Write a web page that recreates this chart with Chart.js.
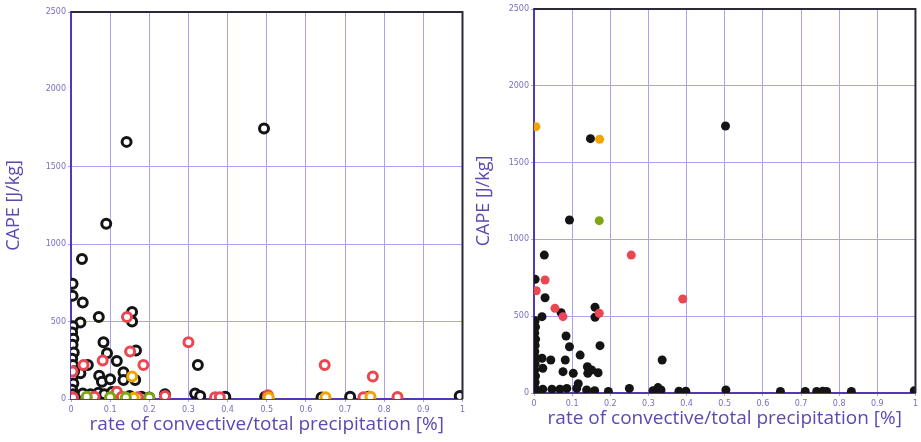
<!DOCTYPE html>
<html>
<head>
<meta charset="utf-8">
<script src="https://cdn.jsdelivr.net/npm/chart.js@4.4.1/dist/chart.umd.min.js"></script>
<style>
  html, body { margin: 0; padding: 0; background: #fff; }
  .panel { position: absolute; top: 0; height: 442px; }
  #leftBox { left: 0; width: 470px; }
  #rightBox { left: 470px; width: 451px; }
</style>
</head>
<body>
<div id="leftBox" class="panel"><canvas id="leftChart"></canvas></div>
<div id="rightBox" class="panel"><canvas id="rightChart"></canvas></div>
<script>
// points are [rate, CAPE]
const xTicks = [0, 0.1, 0.2, 0.3, 0.4, 0.5, 0.6, 0.7, 0.8, 0.9, 1];
const yTicks = [0, 500, 1000, 1500, 2000, 2500];

const leftBlack = [
  [0.142, 1661], [0.493, 1748], [0.090, 1132], [0.028, 905], [0.004, 745], [0.004, 667],
  [0.030, 624], [0.071, 529], [0.024, 494], [0.156, 562], [0.156, 501], [0.083, 367],
  [0.092, 296], [0.166, 313], [0.117, 246], [0.043, 220], [0.024, 167], [0.324, 220],
  [0.072, 151], [0.079, 112], [0.100, 128], [0.134, 173], [0.134, 123], [0.164, 123],
  [0.005, 470], [0.003, 430], [0.006, 390], [0.004, 350], [0.007, 300], [0.003, 260],
  [0.005, 220], [0.008, 180], [0.004, 140], [0.006, 100], [0.003, 60], [0.005, 30], [0.010, 10],
  [0.030, 35], [0.050, 30], [0.070, 40], [0.085, 30], [0.105, 45], [0.120, 25], [0.150, 20],
  [0.180, 15], [0.200, 10], [0.240, 30], [0.317, 35], [0.330, 20], [0.394, 15], [0.496, 15],
  [0.640, 10], [0.713, 15], [0.760, 15], [0.993, 20]
];
const leftRed = [
  [0.143, 529], [0.151, 307], [0.081, 248], [0.032, 220], [0.185, 220], [0.004, 177],
  [0.300, 367], [0.648, 220], [0.771, 145], [0.117, 47], [0.240, 20], [0.368, 12],
  [0.380, 12], [0.503, 25], [0.747, 12], [0.834, 13], [0.060, 15], [0.170, 12],
  [0.130, 15], [0.005, 10]
];
const leftOrange = [[0.156, 145], [0.100, 10], [0.650, 12], [0.765, 15], [0.040, 8], [0.160, 8], [0.505, 10]];
const leftGreen = [[0.040, 15], [0.100, 12], [0.140, 10], [0.200, 8]];

const rightBlack = [
  [0.148, 1656], [0.502, 1738], [0.093, 1126], [0.027, 898], [0.003, 740], [0.029, 620],
  [0.071, 523], [0.021, 497], [0.160, 558], [0.160, 493], [0.084, 371], [0.093, 301],
  [0.173, 308], [0.121, 247], [0.021, 226], [0.044, 215], [0.082, 215], [0.336, 215],
  [0.023, 161], [0.076, 139], [0.103, 128], [0.140, 171], [0.141, 128], [0.168, 132], [0.151, 150],
  [0.003, 470], [0.004, 430], [0.002, 390], [0.004, 350], [0.003, 310], [0.002, 270],
  [0.004, 230], [0.003, 190], [0.002, 150], [0.004, 110], [0.003, 70], [0.002, 35], [0.006, 10],
  [0.023, 25], [0.047, 25], [0.068, 25], [0.086, 30], [0.112, 30], [0.116, 60], [0.138, 20],
  [0.159, 15], [0.195, 10], [0.250, 30], [0.312, 15], [0.325, 35], [0.333, 20], [0.380, 12],
  [0.398, 12], [0.503, 20], [0.646, 10], [0.711, 10], [0.741, 10], [0.757, 12], [0.767, 10],
  [0.832, 10], [0.997, 15]
];
const rightRed = [[0.255, 898], [0.029, 736], [0.006, 666], [0.055, 551], [0.076, 497], [0.171, 519], [0.390, 612]];
const rightOrange = [[0.005, 1734], [0.172, 1652]];
const rightGreen = [[0.171, 1122]];

const BLACK = "#141414";
const RED = "#ec4650";
const ORANGE = "#f0a400";
const GREEN = "#7fa514";
const AXIS = "#5436b8";
const GRID = "#b29ef0";
const TEXT = "#5d48b4";

const frame = {
  id: "frame",
  afterDraw(chart) {
    const {ctx, chartArea: a} = chart;
    ctx.save();
    ctx.strokeStyle = "#2a2a3a";
    ctx.lineWidth = 2;
    ctx.beginPath();
    ctx.moveTo(a.left, a.top);
    ctx.lineTo(a.right, a.top);
    ctx.lineTo(a.right, a.bottom);
    ctx.stroke();
    ctx.restore();
  },
};

function toPoints(list) {
  return list.map(p => ({x: p[0], y: p[1]}));
}

function makeChart(id, sets, opts) {
  const datasets = sets.map(s => ({
    data: toPoints(s.data),
    pointRadius: opts.radius,
    pointBorderWidth: opts.ring ? 3 : 0,
    pointBorderColor: s.color,
    pointBackgroundColor: opts.ring ? "#ffffff" : s.color,
    pointHoverRadius: opts.radius,
  }));
  return new Chart(document.getElementById(id), {
    type: "scatter",
    data: {datasets},
    plugins: [frame],
    options: {
      responsive: true,
      maintainAspectRatio: false,
      animation: false,
      layout: {padding: opts.padding},
      plugins: {legend: {display: false}, tooltip: {enabled: false}},
      scales: {
        x: {
          min: 0,
          max: 1,
          afterBuildTicks: axis => { axis.ticks = xTicks.map(v => ({value: v})); },
          afterFit: axis => { axis.height = opts.xHeight; },
          grid: {color: GRID, lineWidth: 1, tickLength: 3},
          border: {color: AXIS, width: 2},
          ticks: {
            color: "#7c6cc0",
            font: {family: "DejaVu Sans", size: 8},
            padding: 3,
            maxRotation: 0,
            callback: v => String(v),
          },
          title: {
            display: true,
            text: "rate of convective/total precipitation [%]",
            color: TEXT,
            font: {family: "Open Sans", size: 19},
            padding: {top: 0, bottom: opts.xTitlePad},
          },
        },
        y: {
          min: 0,
          max: 2500,
          afterBuildTicks: axis => { axis.ticks = yTicks.map(v => ({value: v})); },
          afterFit: axis => { axis.width = opts.yWidth; },
          grid: {
            color: c => (opts.skipGrid.includes(c.tick && c.tick.value) ? "rgba(0,0,0,0)" : GRID),
            lineWidth: 1,
            tickLength: 3,
          },
          border: {color: AXIS, width: 2},
          ticks: {
            color: "#7c6cc0",
            font: {family: "DejaVu Sans", size: 8},
            padding: 2,
            callback: v => String(v),
          },
          title: {
            display: true,
            text: "CAPE [J/kg]",
            color: TEXT,
            font: {family: "Open Sans", size: 18},
            padding: {top: opts.yTitlePad, bottom: 0},
          },
        },
      },
    },
  });
}

makeChart("leftChart", [
  {data: leftGreen, color: GREEN},
  {data: leftOrange, color: ORANGE},
  {data: leftRed, color: RED},
  {data: leftBlack, color: BLACK},
], {
  ring: true, radius: 4.5, padding: {top: 12, right: 7, left: 0, bottom: 0},
  xHeight: 43, yWidth: 71, xTitlePad: 6, yTitlePad: 3, skipGrid: [2000],
});

makeChart("rightChart", [
  {data: rightGreen, color: GREEN},
  {data: rightOrange, color: ORANGE},
  {data: rightRed, color: RED},
  {data: rightBlack, color: BLACK},
], {
  ring: false, radius: 4.5, padding: {top: 9, right: 3, left: 0, bottom: 0},
  xHeight: 49, yWidth: 64, xTitlePad: 12, yTitlePad: 3, skipGrid: [],
});
</script>
</body>
</html>
